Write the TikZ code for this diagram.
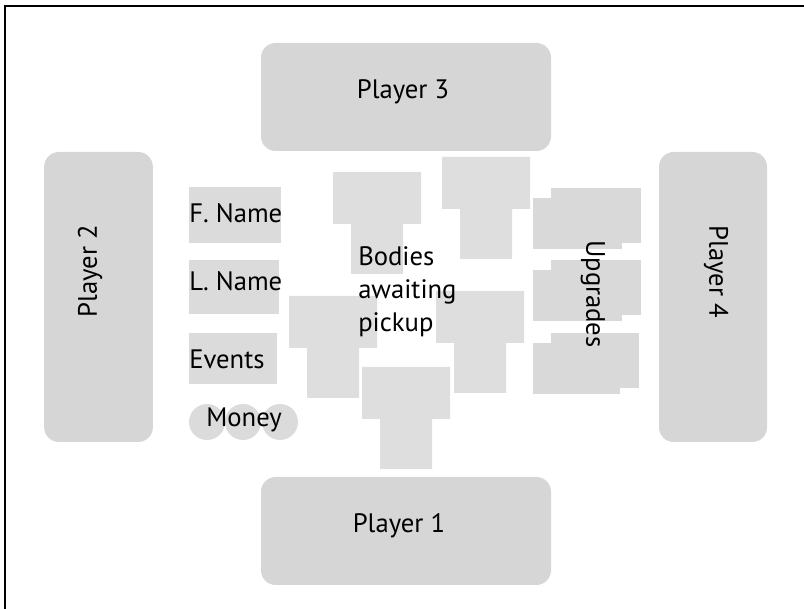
\documentclass[tikz,border=0pt]{standalone}
\usepackage{fontspec}
\setmainfont{PT Sans}
\usepackage{tikz}
\usetikzlibrary{positioning}

\begin{document}
\begin{tikzpicture}[x=0.75pt,y=-0.75pt,
	playerbox/.style={fill=black!16, rounded corners=11pt, inner sep=0pt},
	lbl/.style={font=\fontsize{20}{25}\selectfont, text=black, inner sep=0pt},
	bodyfill/.style={fill=black!13},
	slotbox/.style={fill=black!14},
	upgradebox/.style={fill=black!15}]
	\useasboundingbox (0,0) rectangle (804,609);
	\draw[line width=1.2pt] (5,609) -- (5,6) -- (804,6);

	% players round the table
	\node[playerbox, minimum width=217.5pt, minimum height=81pt] (p3) at (406,97) {};
	\node[playerbox, minimum width=217.5pt, minimum height=81pt] (p1) at (406,531) {};
	\node[playerbox, minimum width=81.5pt, minimum height=217.5pt] (p2) at (98.5,297) {};
	\node[playerbox, minimum width=81pt, minimum height=217.5pt] (p4) at (713,297) {};
	\node[lbl, anchor=base] (p3txt) at (403,99) {Player 3};
	\node[lbl, anchor=base] (p1txt) at (399,533) {Player 1};
	\node[lbl, rotate=90] (p2txt) at (90,271) {Player 2};
	\node[lbl, rotate=-90] (p4txt) at (716,272) {Player 4};

	% bodies
	\foreach \bx/\by in {333/172, 442/157, 289/296, 436/291, 362/367}{
		\fill[bodyfill] (\bx,\by) -- ++(88,0) -- ++(0,52) -- ++(-18,0) -- ++(0,50)
			-- ++(-52,0) -- ++(0,-50) -- ++(-18,0) -- cycle;
	}
	\node[lbl, align=left, anchor=base west] (bodies) at (358,332)
		{Bodies\\awaiting\\pickup};

	% upgrades
	\foreach \uy/\uw in {188/90, 260/90, 333/88}{
		\fill[upgradebox] (551,\uy) rectangle ++(\uw,55);
		\fill[upgradebox] (533,\uy+10) rectangle ++(\uw-1,51);
	}
	\node[lbl, rotate=-90] (upg) at (593,294) {Upgrades};

	% name, events, money
	\fill[slotbox] (189,187) rectangle (281,243);
	\fill[slotbox] (189,260) rectangle (279,314);
	\fill[slotbox] (189,333) rectangle (277,384);
	\node[lbl, anchor=base west] (fname) at (189,223) {F. Name};
	\node[lbl, anchor=base west] (lname) at (189,291) {L. Name};
	\node[lbl, anchor=base west] (events) at (189,369) {Events};
	\foreach \mx in {207,243,280}
		\fill[slotbox] (\mx,422) circle (13.5pt);
	\node[lbl, anchor=base] (money) at (244,427) {Money};
\end{tikzpicture}
\end{document}
